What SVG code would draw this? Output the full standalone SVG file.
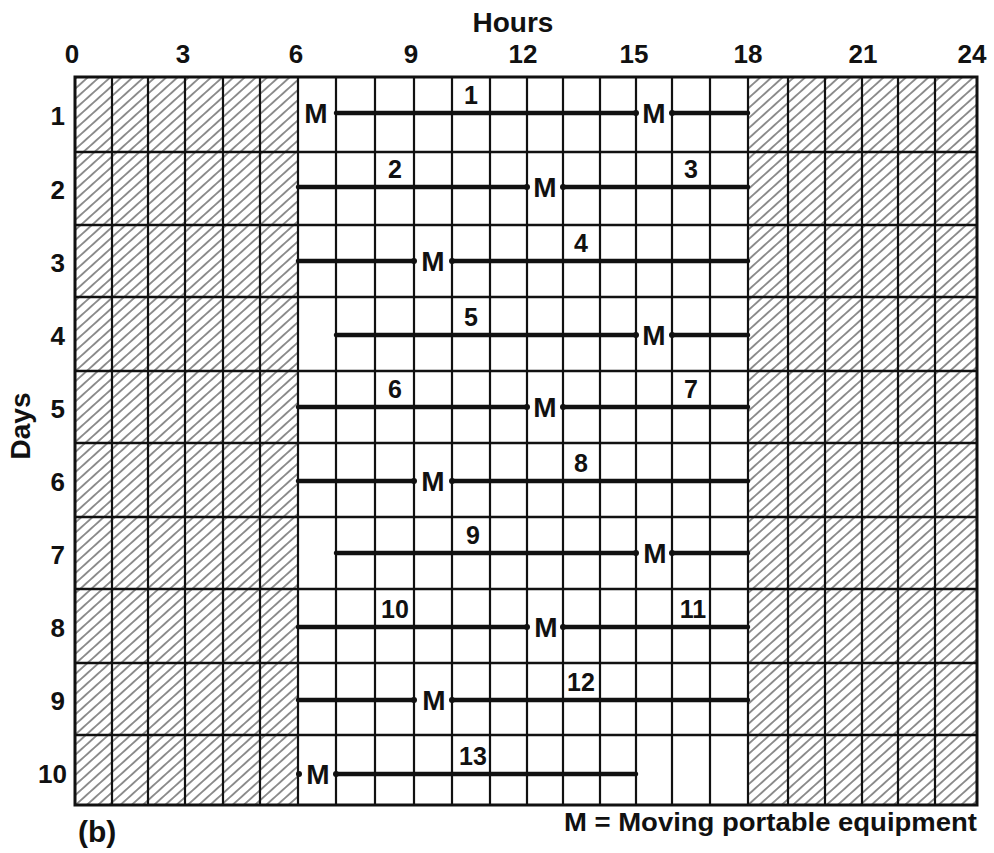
<svg xmlns="http://www.w3.org/2000/svg" width="994" height="853" viewBox="0 0 994 853">
<style>
text{font-family:"Liberation Sans",Arial,sans-serif;fill:#111;font-weight:bold}
.ax{font-size:26px;text-anchor:middle}
.rl{font-size:26px;text-anchor:end}
.ttl{font-size:28px;text-anchor:middle}
.num{font-size:25px;text-anchor:middle}
.m{font-size:28px;text-anchor:middle}
.vl{stroke:#111;stroke-width:2.2;fill:none}
.hl{stroke:#111;stroke-width:2.6;fill:none}
.bar{stroke:#111;stroke-width:4.5;fill:none;stroke-linecap:round}
.dot{fill:#111}
</style>
<defs>
<pattern id="hatch" patternUnits="userSpaceOnUse" width="4" height="7.5" patternTransform="rotate(-42)">
<rect x="0" y="3.2" width="4" height="1.1" fill="#3a3a3a"/>
</pattern>
</defs>
<rect width="994" height="853" fill="#fff"/>

<g id="axis-labels">
<text class="ttl" x="513" y="32">Hours</text>
<text class="ax" x="72" y="63">0</text>
<text class="ax" x="183" y="63">3</text>
<text class="ax" x="296" y="63">6</text>
<text class="ax" x="411" y="63">9</text>
<text class="ax" x="523" y="63">12</text>
<text class="ax" x="634" y="63">15</text>
<text class="ax" x="748" y="63">18</text>
<text class="ax" x="863" y="63">21</text>
<text class="ax" x="972" y="63">24</text>
<text class="ttl" transform="translate(30,426) rotate(-90)" x="0" y="0">Days</text>
<text class="rl" x="65" y="125">1</text>
<text class="rl" x="65" y="199">2</text>
<text class="rl" x="65" y="272">3</text>
<text class="rl" x="65" y="345">4</text>
<text class="rl" x="65" y="418">5</text>
<text class="rl" x="65" y="491">6</text>
<text class="rl" x="65" y="564">7</text>
<text class="rl" x="65" y="637">8</text>
<text class="rl" x="65" y="710">9</text>
<text class="rl" x="67" y="783">10</text>
</g>

<g id="grid">
<rect x="75" y="77" width="223" height="728" fill="url(#hatch)"/>
<rect x="748" y="77" width="229" height="728" fill="url(#hatch)"/>
<path class="vl" d="M112 77V805M148 77V805M185 77V805M223 77V805M260 77V805M298 77V805M336 77V805M375 77V805M414 77V805M452 77V805M490 77V805M527 77V805M563 77V805M600 77V805M636 77V805M672 77V805M710 77V805M748 77V805M788 77V805M825 77V805M862 77V805M898 77V805M935 77V805"/>
<path class="hl" d="M75 152H977M75 225H977M75 297H977M75 371H977M75 443H977M75 517H977M75 589H977M75 663H977M75 735H977"/>
<rect x="75" y="77" width="902" height="728" fill="none" stroke="#111" stroke-width="3"/>
</g>

<g id="connectors">
<g id="day-1">
<path class="bar" d="M336 113H636M672 113H748"/>
<circle class="dot" cx="636" cy="113" r="3"/><circle class="dot" cx="672" cy="113" r="3"/>
</g>
<g id="day-2">
<path class="bar" d="M298 187H527M563 187H748"/>
<circle class="dot" cx="527" cy="187" r="3"/><circle class="dot" cx="563" cy="187" r="3"/>
</g>
<g id="day-3">
<path class="bar" d="M298 261H414M452 261H748"/>
<circle class="dot" cx="414" cy="261" r="3"/><circle class="dot" cx="452" cy="261" r="3"/>
</g>
<g id="day-4">
<path class="bar" d="M336 335H636M672 335H748"/>
<circle class="dot" cx="636" cy="335" r="3"/><circle class="dot" cx="672" cy="335" r="3"/>
</g>
<g id="day-5">
<path class="bar" d="M298 407H527M563 407H748"/>
<circle class="dot" cx="527" cy="407" r="3"/><circle class="dot" cx="563" cy="407" r="3"/>
</g>
<g id="day-6">
<path class="bar" d="M298 481H414M452 481H748"/>
<circle class="dot" cx="414" cy="481" r="3"/><circle class="dot" cx="452" cy="481" r="3"/>
</g>
<g id="day-7">
<path class="bar" d="M336 553H636M672 553H748"/>
<circle class="dot" cx="636" cy="553" r="3"/><circle class="dot" cx="672" cy="553" r="3"/>
</g>
<g id="day-8">
<path class="bar" d="M298 627H527M563 627H748"/>
<circle class="dot" cx="527" cy="627" r="3"/><circle class="dot" cx="563" cy="627" r="3"/>
</g>
<g id="day-9">
<path class="bar" d="M298 700H414M452 700H748"/>
<circle class="dot" cx="414" cy="700" r="3"/><circle class="dot" cx="452" cy="700" r="3"/>
</g>
<g id="day-10">
<path class="bar" d="M336 774H636"/>
<circle class="dot" cx="299" cy="774" r="3"/><circle class="dot" cx="336" cy="774" r="3"/>
</g>
</g>

<g id="task-labels">
<text class="num" x="471" y="104">1</text>
<text class="num" x="395" y="178">2</text>
<text class="num" x="691" y="178">3</text>
<text class="num" x="581" y="252">4</text>
<text class="num" x="471" y="326">5</text>
<text class="num" x="395" y="398">6</text>
<text class="num" x="691" y="398">7</text>
<text class="num" x="581" y="472">8</text>
<text class="num" x="473" y="544">9</text>
<text class="num" x="395" y="618">10</text>
<text class="num" x="693" y="618">11</text>
<text class="num" x="581" y="691">12</text>
<text class="num" x="473" y="765">13</text>
</g>

<g id="moves">
<text class="m" x="316" y="123">M</text>
<text class="m" x="654" y="123">M</text>
<text class="m" x="545" y="197">M</text>
<text class="m" x="433" y="271">M</text>
<text class="m" x="654" y="345">M</text>
<text class="m" x="545" y="417">M</text>
<text class="m" x="433" y="491">M</text>
<text class="m" x="655" y="563">M</text>
<text class="m" x="546" y="637">M</text>
<text class="m" x="434" y="710">M</text>
<text class="m" x="318" y="784">M</text>
</g>

<g id="footer">
<text x="78" y="842" style="font-size:30px">(b)</text>
<text x="977" y="831" style="font-size:25px;text-anchor:end" textLength="413" lengthAdjust="spacingAndGlyphs">M = Moving portable equipment</text>
</g>
</svg>
